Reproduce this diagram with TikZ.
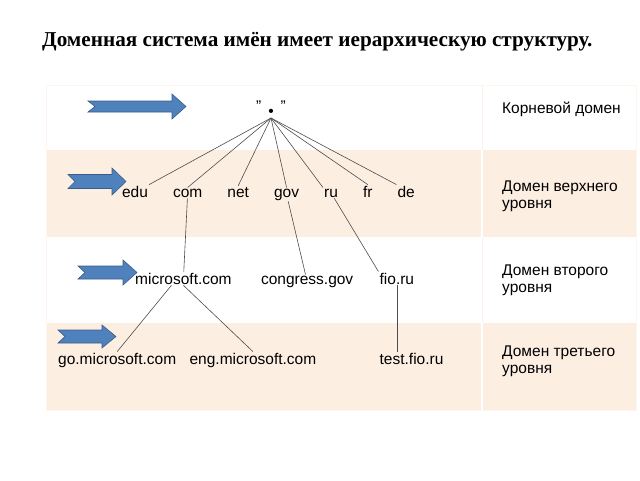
\documentclass[tikz,border=0pt]{standalone}
\usepackage{fontspec}
\setmainfont{Liberation Serif}
\setsansfont{Liberation Sans}
\usetikzlibrary{positioning}
\definecolor{peach}{RGB}{253,238,226}
\definecolor{arrblue}{RGB}{79,129,189}
\definecolor{arrline}{RGB}{56,93,138}
\tikzset{
  dn/.style={font=\sffamily\fontsize{15.5}{17}\selectfont, inner sep=1pt, anchor=base},
  lv/.style={font=\sffamily\fontsize{15.5}{16.5}\selectfont, align=left, anchor=base west, inner sep=0pt},
  br/.style={draw=black!70, line width=0.6pt},
  node distance=22.7pt
}
% notched block arrow: left x, tip x, mid y, shaft half, head half
\newcommand{\blockarrow}[5]{%
  \filldraw[fill=arrblue, draw=arrline, line width=0.6pt]
    (#1,#3-#4) -- (#2-14,#3-#4) -- (#2-14,#3-#5) -- (#2,#3) -- (#2-14,#3+#5)
    -- (#2-14,#3+#4) -- (#1,#3+#4) -- (#1+7,#3) -- cycle;}

\begin{document}
\begin{tikzpicture}[x=1pt,y=-1pt]
	\useasboundingbox (0,0) rectangle (640,480);
	% bands
	\fill[peach] (46,150) rectangle (636,237);
	\fill[peach] (46,323) rectangle (636,410);
	\draw[peach!60, line width=0.8pt] (46,85) rectangle (636,410);
	\draw[white, line width=1.2pt] (482,150) -- (482,237) (482,323) -- (482,410);
	\draw[peach!80, line width=0.8pt] (482,85) -- (482,150) (482,237) -- (482,323);
	%
	\node[font=\bfseries\fontsize{21.2}{23}\selectfont, anchor=base west, inner sep=0pt] (title) at (42,46) {Доменная система имён имеет иерархическую структуру.};
	%
	\blockarrow{88}{186}{106.5}{5.5}{12.5}
	\blockarrow{68}{126}{181.5}{7}{13.5}
	\blockarrow{78}{137}{272.5}{6.5}{12.5}
	\blockarrow{58}{116}{336.5}{6.5}{11.5}
	%
	\node[dn] (root) at (271,111) {"\hspace{7pt}\raisebox{-5.5pt}{\textbullet}\hspace{7pt}"};
	\coordinate (top) at (271,118);
	\node[dn] (edu) at (135,197) {edu};
	\node[dn, base right=of edu] (com) {com};
	\node[dn, base right=of com] (net) {net};
	\node[dn, base right=of net] (gov) {gov};
	\node[dn, base right=of gov] (ru) {ru};
	\node[dn, base right=of ru] (fr) {fr};
	\node[dn, base right=of fr] (de) {de};
	%
	\node[dn, anchor=base west] (ms) at (134,284) {microsoft.com};
	\node[dn, base right=27pt of ms] (cg) {congress.gov};
	\node[dn, base right=24pt of cg] (fio) {fio.ru};
	%
	\node[dn, anchor=base west] (go) at (57,364) {go.microsoft.com};
	\node[dn, base right=11pt of go] (eng) {eng.microsoft.com};
	\node[dn, anchor=base west] (test) at (fio.west |- go.base) {test.fio.ru};
	%
	\node[lv] (lroot) at (502,113) {Корневой домен};
	\node[lv] (ltop) at (502,208) {Домен верхнего\\уровня};
	\node[lv] (lsec) at (502,292) {Домен второго\\уровня};
	\node[lv] (lthird) at (502,373) {Домен третьего\\уровня};
	%
	\draw[br] (top) -- (edu.north east);
	\draw[br] (top) -- (com.north);
	\draw[br] (top) -- (net.north);
	\draw[br] (top) -- (gov.north);
	\draw[br] (top) -- (ru.north west);
	\draw[br] (top) -- (fr.north);
	\draw[br] (top) -- (de.north west);
	\draw[br] (com) -- (ms);
	\draw[br] (gov) -- (cg);
	\draw[br] (ru) -- (fio.north west);
	\draw[br] ([xshift=-12pt]ms.south) -- (go.north);
	\draw[br] (ms.south) -- (eng.north);
	\draw[br] (fio) -- (fio |- test.north);
\end{tikzpicture}
\end{document}
